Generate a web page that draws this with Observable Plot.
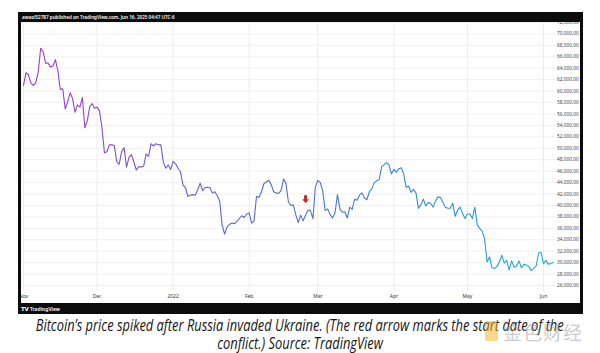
<!DOCTYPE html>
<html><head><meta charset="utf-8">
<script src="https://cdn.jsdelivr.net/npm/d3@7"></script>
<script src="https://cdn.jsdelivr.net/npm/@observablehq/plot@0.6"></script>
<style>
html,body{margin:0;padding:0;background:#fff;}
body{width:600px;height:353px;overflow:hidden;position:relative;font-family:"Open Sans",sans-serif;}
#frame{position:absolute;left:18px;top:12px;width:565px;height:302px;background:#0c0c0c;}
#header{position:absolute;left:4px;top:2.2px;font:600 4.6px "Noto Sans",sans-serif;color:#fff;white-space:nowrap;}
#chart{position:absolute;left:3px;top:10px;width:559px;height:281px;background:#fff;overflow:hidden;}
#footer{position:absolute;left:3px;top:294px;font:600 5px "Noto Sans",sans-serif;color:#fff;white-space:nowrap;}
#footer b{font:900 5.5px "DejaVu Sans",sans-serif;letter-spacing:-0.3px;margin-right:1.5px;}
#caption{position:absolute;left:-300px;top:316px;width:1200px;text-align:center;font-style:italic;font-family:"Open Sans",sans-serif;font-size:16px;line-height:18px;color:#151515;}
#caption .ln{display:block;white-space:nowrap;}
#caption .ln span{display:inline-block;transform-origin:center;}
#wm{position:absolute;left:484px;top:318px;width:110px;height:28px;opacity:0.5;pointer-events:none;}
#wm .logo{position:absolute;left:1px;top:3px;width:13px;height:20px;background:#f5b21c;border-radius:2px;}
#wm .txt{position:absolute;left:19px;top:0px;font:19px "Noto Sans CJK SC",sans-serif;color:#9a9a9a;letter-spacing:1px;white-space:nowrap;}
</style>
</head><body>
<div id="frame">
  <div id="header">awool52787 published on TradingView.com, Jun 16, 2025 04:47 UTC-6</div>
  <div id="chart"></div>
  <div id="footer"><b>TV</b>TradingView</div>
</div>
<div id="caption">
  <div class="ln"><span id="c1">Bitcoin’s price spiked after Russia invaded Ukraine. (The red arrow marks the start date of the</span></div>
  <div class="ln"><span id="c2">conflict.) Source: TradingView</span></div>
</div>
<div id="wm"><div class="logo"></div><div class="txt">金色财经</div></div>
<script>
// ---- data (daily closes, USD) ----
const startDate = "2021-11-01";
const nov2021 = [61000,63200,62900,61400,61000,61500,63300,67500,66900,64900,64900,64200,64400,65500,63600,60300,60400,56900,58100,59700,58700,56300,57600,57200,58900,53600,54800,57300,57800,57000];
const dec2021 = [57200,56500,53600,49200,49400,50600,50600,50500,47700,47200,49400,50100,46700,48400,48900,47600,46200,46800,46700,46900,49000,48600,50800,50400,50800,50600,50600,47600,46500,47100,46300];
const jan2022 = [47700,47300,46500,45900,43600,43100,41600,41800,41900,41800,42700,43900,42600,43100,43200,43100,42200,42400,41700,40700,36500,35000,36300,36700,36900,36800,37200,37700,38200,37900,38500];
const feb2022 = [38700,36900,37300,41600,41400,42400,43800,44100,44400,43600,42400,42200,42100,42600,44600,43900,40600,40000,40100,38400,37000,38300,37300,38300,39200,39100,37700,43200];
const mar2022 = [44400,44000,42500,39100,39400,38400,37800,38700,41900,39400,38800,38900,37800,39700,39300,41100,40900,41800,42200,41300,41000,42400,42900,44000,44300,44500,46800,47100,47500,47100,45500];
const apr2022 = [46300,45800,46400,46600,45500,43200,43400,42300,42800,42200,39500,40100,41100,39900,40500,40400,39700,40800,41500,41400,40500,39700,39500,39500,40400,38100,39200,39700,38600,37700];
const may2022 = [38500,38500,37700,39700,36600,36000,35500,34100,30100,31000,29100,29000,29300,30100,31300,29900,30400,28700,30300,29200,29400,30300,29100,29700,29600,29300,28600,29000,29400,31700,31800];
const jun2022 = [29800,30400,29700,29900,30000];

const monthTickDates = ["2021-11-01","2021-12-01","2022-01-01","2022-02-01","2022-03-01","2022-04-01","2022-05-01","2022-06-01"];
const monthTickLabels = ["Nov","Dec","2022","Feb","Mar","Apr","May","Jun"];
const yTickValues = [26000,28000,30000,32000,34000,36000,38000,40000,42000,44000,46000,48000,50000,52000,54000,56000,58000,60000,62000,64000,66000,68000,70000,72000];
const invasionDate = ["2022-02-24"];
const invasionMarkerPrice = [41100];

// ---- build ----
const parse = d3.utcParse("%Y-%m-%d");
const start = parse(startDate);
const prices = [].concat(nov2021, dec2021, jan2022, feb2022, mar2022, apr2022, may2022, jun2022);
const data = prices.map((p, i) => ({date: d3.utcDay.offset(start, i), price: p}));
const monthTicks = monthTickDates.map(parse);
const arrowData = invasionDate.map((d, i) => ({date: parse(d), price: invasionMarkerPrice[i]}));

const arrowSymbol = {
  draw(ctx) {
    ctx.moveTo(-1.5, -4); ctx.lineTo(1.5, -4); ctx.lineTo(1.5, 0);
    ctx.lineTo(3.3, 0); ctx.lineTo(0, 4); ctx.lineTo(-3.3, 0);
    ctx.lineTo(-1.5, 0); ctx.closePath();
  }
};

const plot = Plot.plot({
  width: 559, height: 281,
  marginTop: 0, marginBottom: 12, marginLeft: 0, marginRight: 24,
  style: {fontFamily: '"Noto Sans", sans-serif', background: "white"},
  x: {type: "utc", domain: [monthTicks[0], monthTicks[monthTicks.length - 1]], range: [2, 522]},
  y: {domain: [26000, 72000], range: [263, 0]},
  marks: [
    Plot.gridX(monthTicks, {stroke: "#ececec", strokeOpacity: 1}),
    Plot.gridY(yTickValues, {stroke: "#f0f0f0", strokeOpacity: 1}),
    Plot.axisX(monthTicks, {label: null, tickSize: 0, tickPadding: 3, fontSize: 5, fill: "#333",
      tickFormat: d => monthTickLabels[monthTicks.findIndex(t => +t === +d)]}),
    Plot.axisY(yTickValues, {anchor: "right", label: null, tickSize: 0, tickPadding: 0.5, fontSize: 4.8, fill: "#444",
      tickFormat: d3.format(",.2f")}),
    Plot.line(data, {x: "date", y: "price", stroke: "url(#btcGrad)", strokeWidth: 1.1}),
    Plot.dot(arrowData, {x: "date", y: "price", symbol: arrowSymbol, fill: "#c62828", stroke: null})
  ]
});

const ns = "http://www.w3.org/2000/svg";
const defs = document.createElementNS(ns, "defs");
defs.innerHTML = '<linearGradient id="btcGrad" gradientUnits="userSpaceOnUse" x1="2" y1="0" x2="532" y2="0">' +
  '<stop offset="0" stop-color="#a23ad0"/><stop offset="0.3" stop-color="#6a5dd0"/>' +
  '<stop offset="0.55" stop-color="#4d72cf"/><stop offset="0.8" stop-color="#3190d4"/>' +
  '<stop offset="1" stop-color="#1fb0da"/></linearGradient>';
plot.insertBefore(defs, plot.firstChild);
document.getElementById("chart").appendChild(plot);

function fitCaption() {
  const c1 = document.getElementById("c1"), c2 = document.getElementById("c2");
  c1.style.transform = c2.style.transform = "none";
  const w = c1.getBoundingClientRect().width;
  const k = 528 / w;
  c1.style.transform = c2.style.transform = `scaleX(${k})`;
}
fitCaption();
if (document.fonts && document.fonts.ready) document.fonts.ready.then(fitCaption);
</script>
</body></html>
